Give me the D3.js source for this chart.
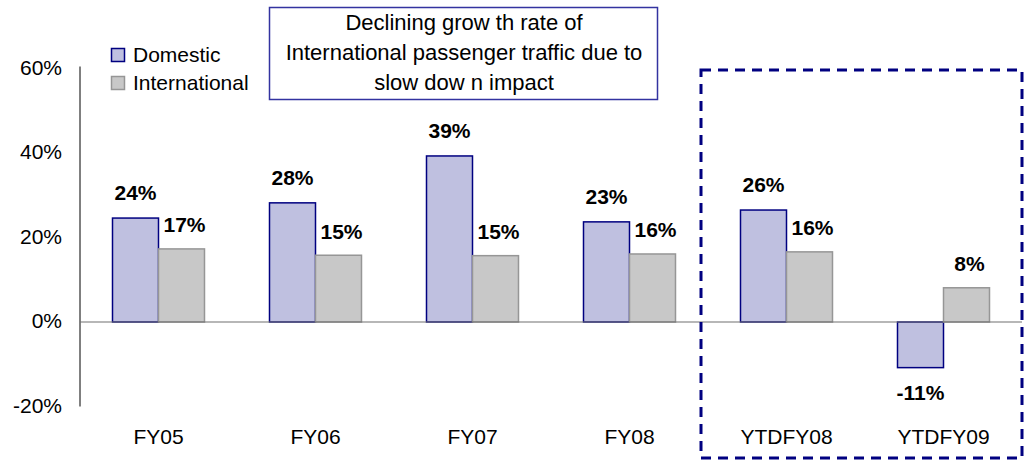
<!DOCTYPE html>
<html>
<head>
<meta charset="utf-8">
<script src="https://cdn.jsdelivr.net/npm/d3@7"></script>
<style>
  html, body { margin: 0; padding: 0; background: #fff; }
  svg { display: block; font-family: "Liberation Sans", Arial, sans-serif; }
</style>
</head>
<body>
<svg id="chart" width="1033" height="461"></svg>
<script>
const categories = ["FY05", "FY06", "FY07", "FY08", "YTDFY08", "YTDFY09"];
const domestic = [24.6, 28.2, 39.3, 23.7, 26.5, -10.8];
const international = [17.3, 15.8, 15.7, 16.1, 16.6, 8.1];
const domesticLabels = ["24%", "28%", "39%", "23%", "26%", "-11%"];
const internationalLabels = ["17%", "15%", "15%", "16%", "16%", "8%"];
const yTicks = [-20, 0, 20, 40, 60];
const seriesNames = ["Domestic", "International"];
const noteLines = ["Declining grow th rate of", "International passenger traffic due to", "slow dow n impact"];

const svg = d3.select("#chart");
const plotLeft = 80, plotRight = 1022, plotTop = 68.5, plotBottom = 406.5;
const fs = 21;

const x = d3.scaleBand().domain(categories).range([plotLeft, plotRight]).padding(0);
const y = d3.scaleLinear().domain([-20, 60]).range([plotBottom, plotTop]);
const barW = 46;

const cDom = { fill: "#BFC0E0", stroke: "#000080" };
const cInt = { fill: "#C8C8C8", stroke: "#969696" };

// y axis line
svg.append("line").attr("x1", plotLeft).attr("x2", plotLeft)
  .attr("y1", y(60) - 2).attr("y2", y(-20)).attr("stroke", "#000").attr("stroke-width", 1);

// y tick labels
svg.append("g").selectAll("text").data(yTicks).join("text")
  .attr("x", 62).attr("y", d => y(d) - 1).attr("dy", "0.35em")
  .attr("text-anchor", "end").attr("font-size", fs).attr("fill", "#000")
  .text(d => d + "%");

const cx = d => x(d) + x.bandwidth() / 2;

const rows = categories.map((c, i) => ({ c, d: domestic[i], n: international[i], dl: domesticLabels[i], nl: internationalLabels[i] }));

svg.append("g").selectAll("rect").data(rows).join("rect")
  .attr("x", r => cx(r.c) - barW).attr("width", barW)
  .attr("y", r => y(Math.max(0, r.d))).attr("height", r => Math.abs(y(r.d) - y(0)))
  .attr("fill", cDom.fill).attr("stroke", cDom.stroke).attr("stroke-width", 1.5);

svg.append("g").selectAll("rect").data(rows).join("rect")
  .attr("x", r => cx(r.c)).attr("width", barW)
  .attr("y", r => y(Math.max(0, r.n))).attr("height", r => Math.abs(y(r.n) - y(0)))
  .attr("fill", cInt.fill).attr("stroke", cInt.stroke).attr("stroke-width", 1.5);

// zero line
svg.append("line").attr("x1", plotLeft).attr("x2", plotRight).attr("y1", y(0)).attr("y2", y(0))
  .attr("stroke", "#707070").attr("stroke-width", 1.2);

// value labels
svg.append("g").selectAll("text").data(rows).join("text")
  .attr("x", r => cx(r.c) - barW / 2)
  .attr("y", r => r.d >= 0 ? y(r.d) - 25 : y(r.d) + 25)
  .attr("dy", "0.35em").attr("text-anchor", "middle")
  .attr("font-size", fs).attr("font-weight", "bold").attr("fill", "#000")
  .text(r => r.dl);

svg.append("g").selectAll("text").data(rows).join("text")
  .attr("x", r => cx(r.c) + barW / 2 + 3)
  .attr("y", r => r.n >= 0 ? y(r.n) - 24 : y(r.n) + 24)
  .attr("dy", "0.35em").attr("text-anchor", "middle")
  .attr("font-size", fs).attr("font-weight", "bold").attr("fill", "#000")
  .text(r => r.nl);

// category labels
svg.append("g").selectAll("text").data(categories).join("text")
  .attr("x", d => cx(d)).attr("y", 437).attr("dy", "0.35em")
  .attr("text-anchor", "middle").attr("font-size", fs).attr("fill", "#000")
  .text(d => d);

// legend
const leg = svg.append("g");
seriesNames.forEach((s, i) => {
  const c = i === 0 ? cDom : cInt;
  const yy = 55 + i * 28;
  leg.append("rect").attr("x", 111.5).attr("y", yy - 6.5).attr("width", 13).attr("height", 13)
    .attr("fill", c.fill).attr("stroke", c.stroke).attr("stroke-width", 1.5);
  leg.append("text").attr("x", 133).attr("y", yy).attr("dy", "0.35em")
    .attr("font-size", fs).attr("fill", "#000").text(s);
});

// annotation box
svg.append("rect").attr("x", 269.5).attr("y", 7.5).attr("width", 388).attr("height", 92)
  .attr("fill", "#fff").attr("stroke", "#3333A0").attr("stroke-width", 1.5);
svg.append("g").selectAll("text").data(noteLines).join("text")
  .attr("x", 464).attr("y", (d, i) => 22 + i * 30).attr("dy", "0.35em")
  .attr("text-anchor", "middle").attr("font-size", 22).attr("fill", "#000")
  .text(d => d);

// dashed highlight box
svg.append("rect").attr("x", 701).attr("y", 70).attr("width", 321).attr("height", 388)
  .attr("fill", "none").attr("stroke", "#000080").attr("stroke-width", 3)
  .attr("stroke-dasharray", "10,7");
</script>
</body>
</html>
